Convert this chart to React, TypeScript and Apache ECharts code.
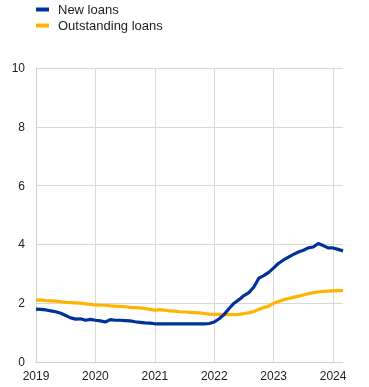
import React, { useEffect, useRef } from "react";
import * as echarts from "echarts";

const years = ["2019", "2020", "2021", "2022", "2023", "2024"];
const monthsCount = 63; // Jan 2019 .. Mar 2024
const categories: string[] = [];
for (let i = 0; i < monthsCount; i++) {
  const y = 2019 + Math.floor(i / 12);
  const m = (i % 12) + 1;
  categories.push(`${y}-${m < 10 ? "0" + m : m}`);
}

const newLoans = [
  1.8, 1.79, 1.77, 1.74, 1.71, 1.66, 1.58, 1.5, 1.46, 1.47, 1.42, 1.45,
  1.42, 1.4, 1.36, 1.44, 1.42, 1.42, 1.41, 1.4, 1.37, 1.35, 1.33, 1.32,
  1.3, 1.3, 1.3, 1.3, 1.3, 1.3, 1.3, 1.3, 1.3, 1.3, 1.3, 1.31,
  1.36, 1.47, 1.62, 1.82, 2.0, 2.12, 2.26, 2.36, 2.55, 2.85, 2.94, 3.05,
  3.2, 3.36, 3.47, 3.57, 3.66, 3.74, 3.8, 3.88, 3.91, 4.03, 3.96, 3.88,
  3.88, 3.83, 3.78,
];

const outstandingLoans = [
  2.1, 2.11, 2.09, 2.08, 2.07, 2.05, 2.03, 2.02, 2.01, 2.0, 1.98, 1.96,
  1.94, 1.93, 1.93, 1.91, 1.9, 1.89, 1.88, 1.86, 1.85, 1.84, 1.82, 1.79,
  1.76, 1.78, 1.76, 1.74, 1.73, 1.71, 1.7, 1.69, 1.68, 1.67, 1.65, 1.63,
  1.62, 1.62, 1.61, 1.61, 1.61, 1.62, 1.65, 1.67, 1.72, 1.79, 1.85, 1.9,
  2.0, 2.06, 2.12, 2.16, 2.2, 2.24, 2.28, 2.32, 2.36, 2.38, 2.4, 2.41,
  2.42, 2.43, 2.43,
];

const seriesNames = ["New loans", "Outstanding loans"];
const colors = ["#003299", "#ffb400"];
const yTicks = [0, 2, 4, 6, 8, 10];

export default function App() {
  const ref = useRef<HTMLDivElement>(null);
  useEffect(() => {
    if (!ref.current) return;
    const chart = echarts.init(ref.current, undefined, { renderer: "svg" });
    const font = "Arial, 'Liberation Sans', sans-serif";
    chart.setOption({
      animation: false,
      textStyle: { fontFamily: font },
      legend: {
        orient: "vertical",
        left: 36,
        top: 3,
        padding: 0,
        itemWidth: 13,
        itemHeight: 4,
        itemGap: 3,
        icon: "rect",
        textStyle: { fontSize: 13, color: "#222", fontFamily: font, padding: [0, 0, 0, 4], lineHeight: 13 },
        data: seriesNames,
      },
      grid: { left: 36, right: 26, top: 68, bottom: 25, containLabel: false },
      xAxis: {
        type: "category",
        data: categories,
        boundaryGap: false,
        axisLine: { show: true, lineStyle: { color: "#d0d0d0", width: 1 } },
        axisTick: { show: false },
        axisLabel: {
          interval: (idx: number) => idx % 12 === 0,
          formatter: (v: string) => {
            const y = v.slice(0, 4);
            return years.includes(y) ? y : "";
          },
          color: "#222",
          fontSize: 12,
          margin: 8,
          fontFamily: font,
        },
        splitLine: {
          show: true,
          interval: (idx: number) => idx % 12 === 0,
          lineStyle: { color: "#d9d9d9", width: 1 },
        },
      },
      yAxis: {
        type: "value",
        min: yTicks[0],
        max: yTicks[yTicks.length - 1],
        interval: 2,
        axisLine: { show: true, lineStyle: { color: "#d0d0d0", width: 1 } },
        axisTick: { show: false },
        axisLabel: { color: "#222", fontSize: 12, margin: 11, fontFamily: font },
        splitLine: { show: true, lineStyle: { color: "#d9d9d9", width: 1 } },
      },
      series: [
        {
          name: seriesNames[0],
          type: "line",
          data: newLoans,
          showSymbol: false,
          symbol: "none",
          lineStyle: { color: colors[0], width: 3.2 },
          itemStyle: { color: colors[0] },
          z: 3,
        },
        {
          name: seriesNames[1],
          type: "line",
          data: outstandingLoans,
          showSymbol: false,
          symbol: "none",
          lineStyle: { color: colors[1], width: 3.2 },
          itemStyle: { color: colors[1] },
          z: 2,
        },
      ],
    });
    return () => chart.dispose();
  }, []);
  return (
    <div
      ref={ref}
      style={{ position: "fixed", left: 0, top: 0, width: 369, height: 387 }}
    />
  );
}
